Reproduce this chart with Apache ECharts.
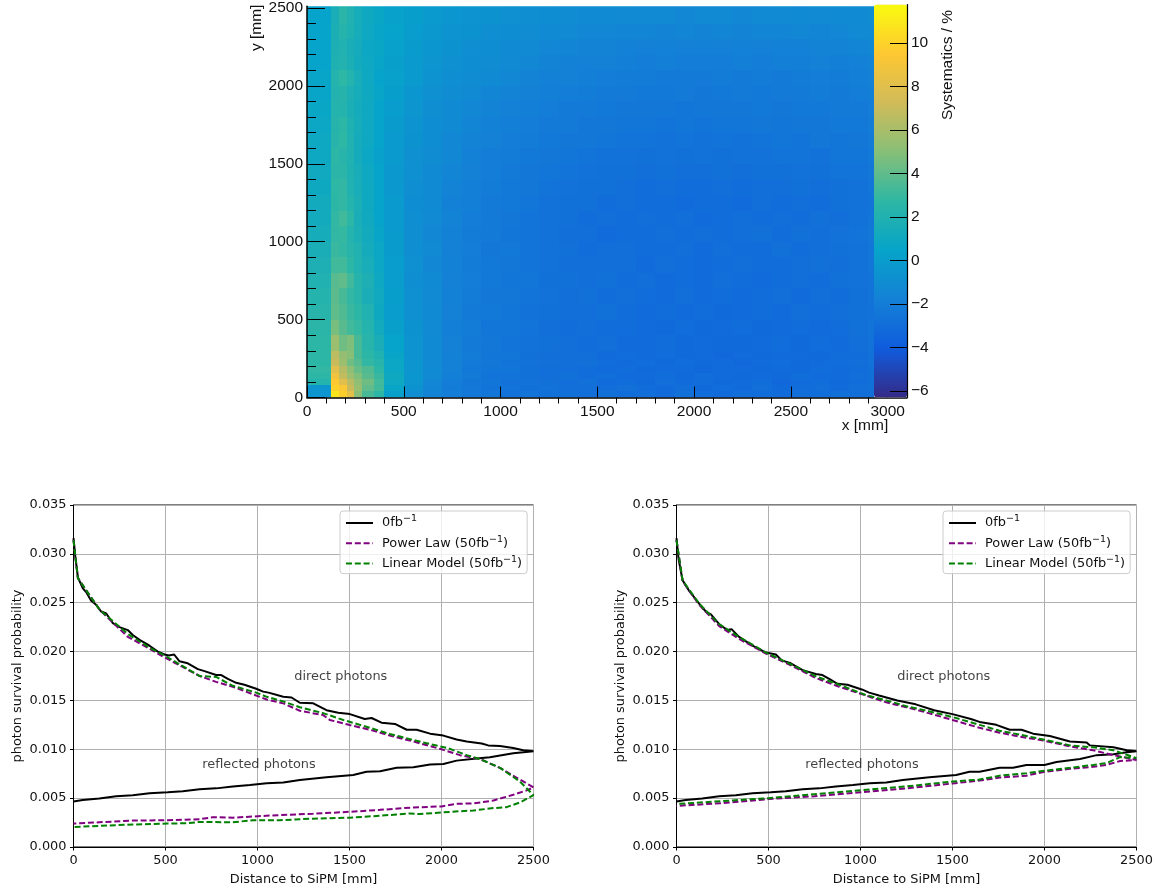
<!DOCTYPE html>
<html><head><meta charset="utf-8"><style>html,body{margin:0;padding:0;background:#fff}#c{width:1165px;height:891px}</style>
<script src="https://cdn.jsdelivr.net/npm/echarts@6/dist/echarts.min.js"></script></head>
<body><div id="c"></div>
<script>
// ---- Systematics map: bin edges [mm] and estimated values [%] (rows bottom to top)
const xEdges=[0,125,165,205,245,285,345,400,500,600,700,800,900,1000,1100,1200,1300,1400,1500,1600,1700,1800,1900,2000,2100,2200,2300,2400,2500,2600,2700,2800,2900,2930];
const yEdges=[0,40,80,120,160,200,250,300,400,500,600,700,800,900,1000,1100,1200,1300,1400,1500,1600,1700,1800,1900,2000,2100,2200,2300,2400,2500,2512];
const systematics=[
[-0.5,10.8,9.8,8.2,5.0,3.4,2.6, 0.2,-0.9,-1.6,-2.0,-2.4,-2.5,-2.7,-2.6,-2.8,-2.8,-2.9,-2.8,-3.0,-2.9,-3.1,-2.8,-3.0,-3.1,-2.9,-3.0,-3.1,-2.9,-3.0,-2.8,-2.9,-2.8],
[-0.5,9.9,9.3,7.0,5.5,4.0,3.2, 0.6,-0.7,-1.5,-2.1,-2.3,-2.6,-2.6,-2.8,-2.7,-2.9,-2.9,-3.0,-2.8,-3.0,-3.1,-2.9,-3.2,-3.0,-3.1,-2.9,-3.2,-3.0,-2.9,-3.1,-2.9,-2.8],
[2.2,9.5,8.0,6.5,5.2,4.4,3.2, 0.9,-0.5,-1.4,-2.0,-2.4,-2.5,-2.7,-2.7,-2.8,-2.9,-2.8,-3.1,-3.0,-3.2,-2.9,-3.1,-3.0,-3.2,-3.1,-3.0,-3.3,-3.1,-3.0,-3.2,-3.0,-2.8],
[2.6,8.8,6.8,5.6,4.8,3.8,3.0, 1.0,-0.4,-1.3,-1.9,-2.2,-2.6,-2.6,-2.8,-2.9,-2.8,-3.0,-2.9,-3.1,-3.1,-3.0,-3.2,-3.0,-3.1,-3.2,-3.1,-3.2,-3.0,-3.1,-3.1,-2.9,-2.8],
[2.8,8.0,6.4,5.2,4.2,3.6,2.6, 0.8,-0.5,-1.2,-1.8,-2.3,-2.5,-2.5,-2.8,-2.9,-2.9,-3.0,-3.1,-3.0,-3.2,-3.1,-3.1,-3.3,-3.1,-3.1,-3.2,-3.1,-3.2,-3.0,-3.1,-3.0,-2.8],
[2.6,7.0,5.6,4.4,3.8,2.8,2.4, 0.8,-0.4,-1.3,-1.8,-2.2,-2.4,-2.6,-2.7,-2.8,-2.9,-2.8,-3.0,-3.1,-3.0,-3.2,-3.0,-3.2,-3.1,-3.3,-3.1,-3.0,-3.2,-3.1,-3.0,-2.9,-2.7],
[2.6,6.6,5.4,5.0,3.4,2.6,2.0, 0.6,-0.6,-1.2,-1.7,-2.1,-2.5,-2.5,-2.8,-2.9,-2.9,-2.9,-3.1,-3.0,-3.1,-3.0,-3.2,-3.1,-3.3,-3.1,-3.2,-3.1,-3.1,-3.2,-3.0,-3.0,-2.8],
[2.6,5.6,4.4,4.8,3.4,2.4,1.6, 0.4,-0.6,-1.2,-1.8,-2.2,-2.4,-2.6,-2.7,-2.8,-2.9,-3.0,-2.9,-3.1,-3.1,-3.0,-3.2,-3.1,-3.2,-3.2,-3.1,-3.0,-3.2,-3.0,-3.1,-2.9,-2.7],
[2.5,4.6,3.8,3.2,2.9,2.2,1.2, 0.2,-0.7,-1.3,-1.9,-2.1,-2.5,-2.5,-2.6,-2.9,-3.0,-2.9,-3.0,-3.0,-3.1,-3.2,-3.0,-3.2,-3.1,-3.0,-3.2,-3.1,-3.0,-3.1,-3.0,-2.8,-2.6],
[2.4,4.0,3.6,3.0,2.6,2.0,1.0, 0.0,-0.8,-1.2,-1.8,-2.2,-2.3,-2.5,-2.7,-2.8,-2.9,-2.9,-2.8,-3.0,-3.1,-3.0,-3.1,-3.0,-3.2,-3.1,-3.0,-3.1,-2.9,-3.0,-2.9,-2.8,-2.7],
[2.2,3.9,3.4,2.8,2.4,1.6,1.1, 0.1,-0.8,-1.3,-1.7,-2.1,-2.4,-2.4,-2.6,-2.7,-2.9,-2.8,-3.0,-2.9,-3.0,-3.1,-2.9,-3.1,-3.0,-3.1,-3.0,-2.9,-3.1,-2.9,-3.0,-2.8,-2.6],
[2.0,3.8,4.0,3.2,2.3,1.8,0.9, 0.0,-0.9,-1.2,-1.8,-2.0,-2.3,-2.5,-2.5,-2.8,-2.8,-2.9,-2.8,-3.0,-2.9,-3.1,-3.0,-3.1,-2.9,-3.0,-3.1,-3.0,-2.9,-3.0,-2.8,-2.7,-2.6],
[1.8,3.2,3.2,2.6,2.0,1.5,0.8, 0.0,-0.8,-1.4,-1.7,-2.1,-2.3,-2.4,-2.6,-2.7,-2.9,-2.9,-2.9,-2.9,-3.1,-2.9,-3.0,-3.1,-3.0,-2.9,-3.0,-3.0,-2.9,-2.8,-2.9,-2.7,-2.5],
[1.6,3.0,2.8,2.4,2.0,1.3,0.8,-0.1,-0.9,-1.3,-1.8,-2.0,-2.4,-2.3,-2.6,-2.7,-2.8,-3.0,-2.9,-2.9,-3.0,-3.0,-2.9,-3.1,-2.9,-3.0,-3.0,-2.8,-3.0,-2.9,-2.8,-2.7,-2.5],
[1.4,2.8,2.9,2.2,1.7,1.2,0.6,-0.1,-0.9,-1.4,-1.7,-2.1,-2.2,-2.5,-2.6,-2.7,-2.9,-2.9,-3.1,-3.0,-3.0,-2.9,-3.0,-2.9,-3.0,-2.9,-2.8,-3.0,-2.8,-2.9,-2.7,-2.6,-2.4],
[1.2,2.8,3.2,2.6,1.6,1.1,0.5,-0.2,-0.9,-1.3,-1.6,-2.0,-2.2,-2.4,-2.6,-2.7,-2.8,-3.0,-2.9,-3.0,-2.9,-3.0,-2.9,-3.1,-3.0,-2.9,-3.0,-2.9,-3.0,-2.8,-2.9,-2.7,-2.5],
[1.2,2.6,2.8,2.2,1.7,1.0,0.5,-0.2,-1.0,-1.2,-1.7,-1.9,-2.2,-2.3,-2.5,-2.7,-2.8,-2.8,-3.0,-2.9,-3.0,-3.0,-3.1,-3.0,-3.0,-3.1,-2.9,-3.0,-2.9,-3.0,-2.8,-2.7,-2.6],
[1.0,2.7,2.8,2.0,1.5,1.0,0.4,-0.3,-0.9,-1.2,-1.6,-1.9,-2.1,-2.3,-2.4,-2.6,-2.7,-2.8,-2.8,-2.9,-3.0,-2.9,-3.0,-3.0,-2.9,-3.0,-2.9,-2.9,-2.8,-2.9,-2.8,-2.7,-2.5],
[1.1,2.5,2.5,1.9,1.5,0.9,0.4,-0.3,-0.8,-1.2,-1.5,-1.8,-2.0,-2.2,-2.4,-2.5,-2.6,-2.7,-2.8,-2.8,-2.9,-2.8,-2.9,-2.9,-2.8,-2.9,-2.8,-2.8,-2.7,-2.8,-2.6,-2.6,-2.4],
[0.9,2.6,2.4,2.0,1.3,0.8,0.3,-0.2,-0.8,-1.1,-1.4,-1.7,-2.0,-2.1,-2.3,-2.4,-2.5,-2.6,-2.7,-2.7,-2.8,-2.7,-2.8,-2.7,-2.8,-2.7,-2.7,-2.6,-2.6,-2.7,-2.5,-2.5,-2.3],
[0.9,2.4,2.7,2.0,1.3,0.9,0.4,-0.2,-0.7,-1.0,-1.4,-1.6,-1.8,-2.0,-2.1,-2.3,-2.4,-2.4,-2.5,-2.6,-2.6,-2.7,-2.6,-2.7,-2.6,-2.7,-2.6,-2.5,-2.6,-2.4,-2.5,-2.4,-2.2],
[0.8,2.3,2.6,1.9,1.4,0.9,0.5,-0.1,-0.6,-1.0,-1.2,-1.5,-1.7,-1.9,-2.0,-2.2,-2.2,-2.4,-2.4,-2.5,-2.5,-2.6,-2.5,-2.6,-2.5,-2.5,-2.4,-2.5,-2.4,-2.4,-2.3,-2.3,-2.1],
[0.7,2.2,2.2,1.7,1.3,0.9,0.5,0.0,-0.5,-0.9,-1.2,-1.4,-1.6,-1.8,-1.9,-2.0,-2.2,-2.2,-2.3,-2.4,-2.4,-2.4,-2.5,-2.4,-2.4,-2.4,-2.3,-2.4,-2.3,-2.3,-2.2,-2.2,-2.0],
[0.6,2.1,2.3,1.8,1.4,1.0,0.6,0.1,-0.4,-0.8,-1.1,-1.3,-1.5,-1.6,-1.8,-1.9,-2.0,-2.1,-2.2,-2.2,-2.3,-2.3,-2.2,-2.4,-2.3,-2.2,-2.3,-2.2,-2.2,-2.1,-2.2,-2.0,-1.9],
[0.6,2.2,2.7,2.2,1.5,0.9,0.5,0.3,-0.2,-0.6,-0.9,-1.1,-1.2,-1.4,-1.6,-1.7,-1.8,-1.9,-2.0,-2.1,-2.1,-2.2,-2.2,-2.2,-2.1,-2.2,-2.1,-2.2,-2.1,-2.0,-2.1,-1.9,-1.8],
[0.5,1.9,2.1,1.7,1.2,0.9,0.6,0.2,-0.2,-0.5,-0.8,-1.0,-1.1,-1.3,-1.4,-1.6,-1.7,-1.8,-1.8,-1.9,-2.0,-1.9,-2.0,-2.0,-2.0,-1.9,-2.0,-1.9,-1.9,-1.8,-1.9,-1.7,-1.6],
[0.5,1.8,2.0,1.6,1.3,0.8,0.7,0.3,-0.1,-0.4,-0.7,-0.9,-1.0,-1.2,-1.3,-1.4,-1.5,-1.6,-1.6,-1.7,-1.8,-1.7,-1.8,-1.7,-1.8,-1.7,-1.8,-1.7,-1.7,-1.6,-1.6,-1.5,-1.4],
[0.4,1.7,2.3,1.9,1.4,0.9,0.6,0.4,0.0,-0.3,-0.6,-0.7,-0.9,-1.0,-1.1,-1.2,-1.3,-1.4,-1.4,-1.5,-1.5,-1.6,-1.5,-1.6,-1.5,-1.6,-1.5,-1.5,-1.4,-1.5,-1.4,-1.3,-1.3],
[0.4,1.6,2.5,2.0,1.4,1.0,0.7,0.3,0.1,-0.2,-0.4,-0.6,-0.7,-0.8,-0.9,-1.0,-1.1,-1.2,-1.2,-1.3,-1.3,-1.3,-1.4,-1.3,-1.3,-1.4,-1.3,-1.3,-1.2,-1.3,-1.2,-1.2,-1.1],
[0.3,1.4,2.2,1.8,1.2,0.8,0.5,0.3,0.0,-0.2,-0.3,-0.5,-0.6,-0.7,-0.8,-0.9,-1.0,-1.0,-1.1,-1.1,-1.2,-1.2,-1.2,-1.2,-1.2,-1.2,-1.2,-1.1,-1.2,-1.1,-1.1,-1.0,-1.0]
];
const axisTicksX=[0,500,1000,1500,2000,2500,3000];
const axisTicksY=[0,500,1000,1500,2000,2500];
const minorX=[100,200,300,400,600,700,800,900,1100,1200,1300,1400,1600,1700,1800,1900,2100,2200,2300,2400,2600,2700,2800,2900];
const minorY=[100,200,300,400,600,700,800,900,1100,1200,1300,1400,1600,1700,1800,1900,2100,2200,2300,2400];
const paletteTicks=[-6,-4,-2,0,2,4,6,8,10];
const kBird=['#352a87','#0f5cdd','#1481d6','#06a4ca','#2eb7a4','#87bf77','#d1bb59','#fec832','#f9fb0e'];

// ---- Survival curves: [distance, probability]
const leftBlackDirect=[[0,.0316],[11,.0295],[24,.0276],[50,.0265],[72,.0260],[96,.0252],[123,.0248],[150,.0241],[178,.0239],[214,.0229],[250,.0225],[295,.0222],[322,.0217],[359,.0212],[413,.0206],[458,.0200],[495,.0197],[518,.0196],[547,.0197],[576,.0190],[621,.0188],[676,.0182],[712,.0180],[775,.0176],[803,.0176],[839,.0172],[884,.0168],[929,.0166],[993,.0162],[1031,.0159],[1060,.0158],[1140,.01537],[1185,.0153],[1230,.01476],[1303,.0147],[1375,.0140],[1439,.01374],[1502,.0136],[1583,.0131],[1620,.0132],[1674,.01272],[1747,.0126],[1811,.0120],[1865,.0120],[1938,.0116],[2010,.0114],[2082,.0110],[2137,.0108],[2218,.0106],[2254,.0104],[2318,.01034],[2390,.01014],[2444,.0099],[2500,.0098]];
const leftBlackReflected=[[0,.00466],[50,.0048],[140,.00497],[232,.0052],[322,.0053],[413,.0055],[512,.0056],[594,.0057],[685,.0059],[775,.0060],[866,.0062],[959,.00635],[1050,.00652],[1140,.0066],[1230,.00686],[1375,.00713],[1520,.00737],[1592,.0077],[1666,.00775],[1756,.0081],[1847,.00816],[1938,.00844],[2010,.0085],[2082,.00884],[2191,.00905],[2263,.00918],[2390,.0096],[2500,.0098]];
const leftPurpleDirect=[[0,.0314],[24,.0275],[141,.0243],[295,.0215],[413,.0203],[495,.0194],[576,.0186],[685,.0175],[775,.0169],[866,.0164],[993,.0155],[1050,.0151],[1140,.0147],[1230,.01394],[1357,.0135],[1393,.0130],[1502,.01248],[1611,.0120],[1719,.0114],[1847,.0108],[2000,.0100],[2100,.0094],[2209,.0090],[2318,.0081],[2426,.0069],[2500,.0061]];
const leftPurpleReflected=[[0,.0024],[140,.00253],[322,.0027],[512,.00274],[685,.00284],[757,.00305],[866,.0030],[1047,.0032],[1300,.0034],[1500,.0036],[1666,.0038],[1847,.00405],[2000,.00415],[2082,.00442],[2173,.00446],[2282,.00476],[2390,.00534],[2463,.0058],[2500,.0062]];
const leftGreenDirect=[[0,.0314],[24,.0275],[141,.0243],[295,.0218],[413,.0204],[495,.0196],[576,.0187],[685,.0175],[775,.0174],[866,.0165],[993,.0158],[1050,.01537],[1140,.0149],[1230,.0143],[1357,.0137],[1466,.0130],[1611,.0122],[1719,.01156],[1775,.0113],[1900,.0107],[2037,.0101],[2137,.0094],[2209,.0090],[2318,.0081],[2426,.0067],[2500,.0053]];
const leftGreenReflected=[[0,.00205],[140,.00216],[322,.0023],[512,.0024],[619,.00243],[685,.00257],[866,.00253],[975,.00274],[1120,.00274],[1300,.0029],[1500,.0030],[1666,.0032],[1756,.00333],[1829,.00343],[1883,.00337],[2000,.00354],[2173,.00374],[2282,.00398],[2354,.00408],[2426,.00456],[2500,.00534]];

const rightBlackDirect=[[0,.0316],[11,.0295],[33,.0273],[69,.0262],[123,.0249],[159,.0241],[187,.0238],[232,.0228],[277,.0222],[299,.0223],[340,.0215],[413,.0206],[486,.0199],[540,.0197],[572,.0191],[621,.0188],[685,.0181],[757,.0177],[793,.0176],[830,.0172],[875,.0167],[929,.0166],[1011,.0161],[1047,.0158],[1101,.0155],[1200,.0150],[1300,.0146],[1400,.0140],[1500,.0136],[1600,.0131],[1647,.0128],[1738,.0125],[1811,.0120],[1875,.0120],[1938,.0116],[2029,.01136],[2138,.0108],[2229,.0107],[2247,.0104],[2375,.0102],[2447,.0099],[2500,.0098]];
const rightBlackReflected=[[0,.00466],[50,.0048],[140,.00497],[232,.0052],[322,.0053],[413,.0055],[512,.0056],[594,.0057],[685,.0059],[775,.0060],[866,.0062],[959,.00635],[1050,.00652],[1140,.0066],[1230,.00686],[1375,.00713],[1520,.00737],[1592,.0077],[1647,.0077],[1756,.0081],[1829,.0081],[1902,.0084],[2000,.0084],[2065,.0087],[2193,.0090],[2284,.0094],[2375,.0095],[2447,.0097],[2500,.0098]];
const rightPurpleDirect=[[0,.0314],[33,.0272],[123,.0248],[232,.0226],[340,.0213],[486,.0198],[621,.0186],[757,.0173],[884,.0164],[1029,.0155],[1140,.0148],[1250,.0143],[1370,.0137],[1500,.0130],[1647,.0122],[1756,.0117],[1865,.0113],[1993,.0109],[2138,.0103],[2265,.0099],[2375,.0094],[2500,.0089]];
const rightPurpleReflected=[[0,.0042],[250,.0045],[500,.0049],[750,.0052],[1000,.0056],[1250,.0060],[1500,.0065],[1647,.0068],[1756,.0071],[1902,.0073],[2000,.0077],[2138,.0080],[2265,.0082],[2338,.0084],[2411,.0088],[2500,.0090]];
const rightGreenDirect=[[0,.0314],[33,.0273],[123,.0249],[232,.0228],[340,.0215],[486,.0199],[621,.0187],[757,.01747],[884,.0166],[1029,.01555],[1140,.0150],[1250,.0144],[1370,.0139],[1500,.0133],[1647,.0125],[1756,.0119],[1865,.0115],[1993,.0110],[2138,.0104],[2265,.0102],[2375,.0099],[2500,.0091]];
const rightGreenReflected=[[0,.0044],[250,.0047],[500,.0050],[750,.0054],[1000,.0058],[1250,.0062],[1500,.0067],[1647,.0069],[1756,.0073],[1902,.00755],[2000,.0078],[2138,.0081],[2265,.0084],[2338,.0086],[2411,.0092],[2500,.0091]];

const legendNames=['0fb−1','Power Law (50fb−1)','Linear Model (50fb−1)'];
const annotations=[[1200,.017,'direct photons'],[700,.008,'reflected photons']];

const cells=[];
systematics.forEach((row,j)=>row.forEach((v,i)=>cells.push([xEdges[i],xEdges[i+1],yEdges[j],yEdges[j+1],v])));
const loop=(d,r)=>d.concat(r.slice().reverse());
const H='"Liberation Sans",Arial,sans-serif', D='"DejaVu Sans",sans-serif';
const plain=v=>String(v);

const heatAxisText={fontFamily:H,fontSize:15.5,color:'#111'};
function plotAxes(gi,name,isX){
  return isX?{type:'value',gridIndex:gi,min:0,max:2500,interval:500,name,nameLocation:'middle',nameGap:26,
      nameTextStyle:{fontFamily:D,fontSize:12.9,color:'#111'},
      axisLine:{lineStyle:{color:'#000',width:1}},axisTick:{length:3.5,lineStyle:{color:'#000'}},
      axisLabel:{fontFamily:D,fontSize:12.9,color:'#111',margin:7,hideOverlap:false,formatter:plain},
      splitLine:{show:true,lineStyle:{color:'#b0b0b0',width:1}}}
   :{type:'value',gridIndex:gi,min:0,max:0.035,interval:0.005,name,nameLocation:'middle',nameGap:49,
      nameTextStyle:{fontFamily:D,fontSize:12.9,color:'#111'},
      axisLine:{show:true,lineStyle:{color:'#000',width:1}},axisTick:{show:true,length:3.5,lineStyle:{color:'#000'}},
      axisLabel:{fontFamily:D,fontSize:12.9,color:'#111',margin:7,formatter:v=>v.toFixed(3)},
      splitLine:{show:true,lineStyle:{color:'#b0b0b0',width:1}}};
}
function curve(name,color,data,xi,yi,dashed){
  return {type:'line',name,data,xAxisIndex:xi,yAxisIndex:yi,showSymbol:false,symbol:'none',smooth:false,z:3,
    lineStyle:{color,width:2,type:dashed?[6,2.8]:'solid'},itemStyle:{color},emphasis:{disabled:true}};
}
function notes(xi,yi){
  return {type:'scatter',data:annotations,xAxisIndex:xi,yAxisIndex:yi,symbolSize:0,silent:true,z:4,
    label:{show:true,position:'right',distance:0,offset:[0,-4],formatter:p=>p.data[2],fontFamily:D,fontSize:12.9,color:'#111'}};
}
function legendLabel(name){
  const parts=name.split('−1');
  const first='{a|'+parts[0]+'}{s|−1}';
  return parts[1]?first+'{b|'+parts[1]+'}':first;
}
function legend(left){
  return {left,top:511,orient:'vertical',data:legendNames,itemWidth:27,itemHeight:18,itemGap:4,
    padding:[3,5,3,5],backgroundColor:'rgba(255,255,255,0.8)',borderColor:'#ccc',borderWidth:1,borderRadius:3,selectedMode:false,
    itemStyle:{opacity:0},formatter:legendLabel,
    textStyle:{fontFamily:D,fontSize:12.9,color:'#111',rich:{
      a:{fontFamily:D,fontSize:12.9,color:'#111',lineHeight:18,padding:[0,0,0,4]},
      b:{fontFamily:D,fontSize:12.9,color:'#111',lineHeight:18},
      s:{fontFamily:D,fontSize:9.5,color:'#111',lineHeight:12,verticalAlign:'top'}}}};
}
const chart=echarts.init(document.getElementById('c'),null,{renderer:'canvas'});
chart.setOption({
  animation:false,backgroundColor:'#fff',tooltip:{show:false},
  legend:[legend(340),legend(943)],
  visualMap:{type:'continuous',seriesIndex:0,dimension:4,min:-6.3,max:11.76,left:874,top:4.5,itemWidth:33,itemHeight:393,padding:0,
    calculable:false,realtime:false,show:true,text:null,showLabel:false,inRange:{color:kBird},z:6,hoverLink:false,
    textStyle:{fontSize:0}},
  grid:[
    {left:307,top:4.5,width:600,height:393,containLabel:false,show:false},
    {left:874,top:4.5,width:33,height:393,show:false},
    {left:73.5,top:505,width:460,height:342,show:true,borderColor:'#000',borderWidth:1,backgroundColor:'transparent'},
    {left:676.5,top:505,width:460,height:342,show:true,borderColor:'#000',borderWidth:1,backgroundColor:'transparent'}
  ],
  xAxis:[
    {type:'value',gridIndex:0,min:0,max:3100,z:5,name:'x [mm]',nameLocation:'middle',nameGap:20,nameMoveOverlap:false,
     nameTextStyle:Object.assign({padding:[0,0,0,516]},heatAxisText),
     axisLine:{lineStyle:{color:'#000',width:1.5}},splitLine:{show:false},
     axisTick:{inside:true,length:11,lineStyle:{color:'#000'},customValues:axisTicksX},
     axisLabel:Object.assign({margin:6,customValues:axisTicksX,formatter:plain},heatAxisText)},
    {type:'value',gridIndex:0,min:0,max:3100,z:5,axisLine:{show:false},splitLine:{show:false},axisLabel:{show:false},
     axisTick:{inside:true,length:6,lineStyle:{color:'#000'},customValues:minorX}},
    {type:'value',gridIndex:1,min:0,max:1,show:false},
    plotAxes(2,'Distance to SiPM [mm]',true),
    plotAxes(3,'Distance to SiPM [mm]',true)
  ],
  yAxis:[
    {type:'value',gridIndex:0,min:0,max:2512,z:5,name:'y [mm]',nameLocation:'middle',nameGap:42,nameRotate:90,nameMoveOverlap:false,
     nameTextStyle:Object.assign({padding:[0,0,0,348]},heatAxisText),
     axisLine:{show:true,lineStyle:{color:'#000',width:1.5}},splitLine:{show:false},
     axisTick:{show:true,inside:true,length:18,lineStyle:{color:'#000'},customValues:axisTicksY},
     axisLabel:Object.assign({margin:4,customValues:axisTicksY,formatter:plain},heatAxisText)},
    {type:'value',gridIndex:0,min:0,max:2512,position:'left',z:5,axisLine:{show:false},splitLine:{show:false},axisLabel:{show:false},
     axisTick:{show:true,inside:true,length:9,lineStyle:{color:'#000'},customValues:minorY}},
    {type:'value',gridIndex:1,min:-6.3,max:11.76,position:'right',z:7,name:'Systematics / %',nameLocation:'middle',nameGap:33,nameRotate:90,
     nameTextStyle:Object.assign({padding:[0,0,0,272]},heatAxisText),
     axisLine:{show:true,onZero:false,lineStyle:{color:'#000',width:1.2}},splitLine:{show:false},
     axisTick:{show:true,inside:true,length:17,lineStyle:{color:'#000'},customValues:paletteTicks},
     axisLabel:Object.assign({margin:4,customValues:paletteTicks,formatter:v=>String(v).replace('-','−')},heatAxisText)},
    plotAxes(2,'photon survival probability',false),
    plotAxes(3,'photon survival probability',false)
  ],
  series:[
    {type:'custom',xAxisIndex:0,yAxisIndex:0,data:cells,clip:true,silent:true,z:2,
     encode:{x:[0,1],y:[2,3]},
     renderItem(params,api){
       const a=api.coord([api.value(0),api.value(2)]),b=api.coord([api.value(1),api.value(3)]);
       const x0=Math.round(a[0]),x1=Math.round(b[0]),y0=Math.round(a[1]),y1=Math.round(b[1]);
       return {type:'rect',shape:{x:x0,y:y1,width:x1-x0,height:y0-y1},style:{fill:api.visual('color')}};
     }},
    curve(legendNames[0],'#000000',loop(leftBlackDirect,leftBlackReflected),3,3,false),
    curve(legendNames[1],'#800080',loop(leftPurpleDirect,leftPurpleReflected),3,3,true),
    curve(legendNames[2],'#008000',loop(leftGreenDirect,leftGreenReflected),3,3,true),
    notes(3,3),
    curve(legendNames[0],'#000000',loop(rightBlackDirect,rightBlackReflected),4,4,false),
    curve(legendNames[1],'#800080',loop(rightPurpleDirect,rightPurpleReflected),4,4,true),
    curve(legendNames[2],'#008000',loop(rightGreenDirect,rightGreenReflected),4,4,true),
    notes(4,4)
  ]
});
</script></body></html>
